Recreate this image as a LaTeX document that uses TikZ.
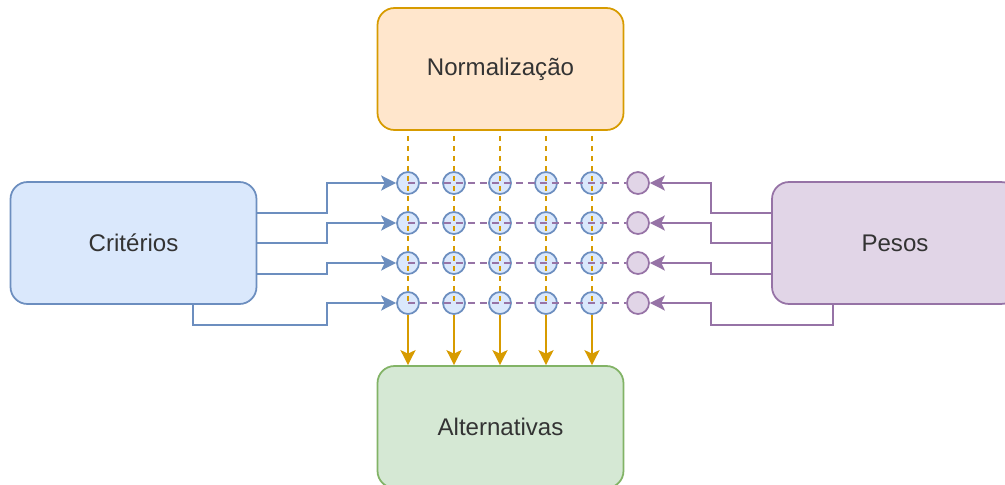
\documentclass[tikz,border=0pt]{standalone}
\usepackage{fontspec}
\setmainfont{Liberation Sans}
\usetikzlibrary{arrows.meta}
\definecolor{normfill}{HTML}{FFE6CC}
\definecolor{normline}{HTML}{D79B00}
\definecolor{critfill}{HTML}{DAE8FC}
\definecolor{critline}{HTML}{6C8EBF}
\definecolor{pesofill}{HTML}{E1D5E7}
\definecolor{pesoline}{HTML}{9673A6}
\definecolor{altfill}{HTML}{D5E8D4}
\definecolor{altline}{HTML}{82B366}
\begin{document}
\begin{tikzpicture}[
		x=0.02cm, y=-0.02cm,
		font=\fontsize{13.7}{16}\selectfont,
		box/.style={rectangle, rounded corners=0.34cm, draw, line width=1pt,
				minimum width=4.92cm, minimum height=2.44cm, text=black!80},
		dot/.style={circle, draw, line width=1pt, minimum size=0.44cm, inner sep=0pt},
		tip/.style={-{Stealth[length=0.3cm,width=0.3cm,inset=0.07cm]}},
		wire/.style={line width=1.2pt}
	]
	\useasboundingbox (0,0) rectangle (1005,484);

	\node[box, fill=normfill, draw=normline] (norm) at (500.5,69) {Normalização};
	\node[box, fill=altfill, draw=altline] (alt) at (500.5,427) {Alternativas};
	\node[box, fill=critfill, draw=critline] (crit) at (133.5,243) {Critérios};
	\node[box, fill=pesofill, draw=pesoline] (pesos) at (895,243) {Pesos};

	% grid of crossing points
	\foreach \i in {1,...,5}
		\foreach \j in {1,...,4}
			\node[dot, fill=critfill, draw=critline] (c\i-\j) at ({408+46*(\i-1)},{183+40*(\j-1)}) {};
	\foreach \j in {1,...,4}
		\node[dot, fill=pesofill, draw=pesoline] (p\j) at (638,{183+40*(\j-1)}) {};

	% dashed grid lines
	\foreach \j in {1,...,4}
		\draw[wire, pesoline, dash pattern=on 0.14cm off 0.1cm] (c1-\j.center) -- (p\j);
	\foreach \i in {1,...,5} {
		\draw[wire, normline, dash pattern=on 0.1cm off 0.1cm] ([yshift=-0.1cm]norm.south -| c\i-1) -- (c\i-4.center);
		\draw[wire, tip, normline] (c\i-4) -- (alt.north -| c\i-4);
	}

	% criterios
	\foreach \j/\dy in {1/0.6, 2/0, 3/-0.62}
		\draw[wire, tip, critline] ([yshift=\dy cm]crit.east) -| ([xshift=-1.62cm]c1-\j.center) -- (c1-\j);
	\draw[wire, tip, critline] ([xshift=1.19cm]crit.south) -- ++(0,20.5) -| ([xshift=-1.62cm]c1-4.center) -- (c1-4);

	% pesos
	\foreach \j/\dy in {1/0.6, 2/0, 3/-0.62}
		\draw[wire, tip, pesoline] ([yshift=\dy cm]pesos.west) -| ([xshift=1.46cm]p\j.center) -- (p\j);
	\draw[wire, tip, pesoline] ([xshift=-1.24cm]pesos.south) -- ++(0,20.5) -| ([xshift=1.46cm]p4.center) -- (p4);
\end{tikzpicture}
\end{document}
